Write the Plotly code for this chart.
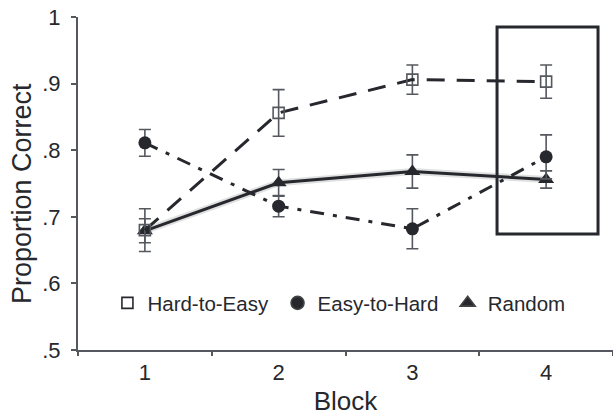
import plotly.graph_objects as go

blocks = ["1", "2", "3", "4"]
hard_to_easy = [0.680, 0.856, 0.906, 0.903]
hard_to_easy_err = [0.032, 0.035, 0.022, 0.025]
easy_to_hard = [0.811, 0.716, 0.682, 0.790]
easy_to_hard_err = [0.020, 0.016, 0.030, 0.033]
random_cond = [0.679, 0.751, 0.768, 0.756]
random_err = [0.018, 0.020, 0.025, 0.013]

ytick_vals = [0.5, 0.6, 0.7, 0.8, 0.9, 1.0]
ytick_text = [".5", ".6", ".7", ".8", ".9", "1"]

dark = "#26282d"
errc = "#55585e"
font = "Liberation Sans, Arial, sans-serif"

fig = go.Figure()

def err(vals):
    return dict(type="data", array=vals, color=errc, thickness=1.6, width=6)

# Random (solid) with soft shadow
fig.add_trace(go.Scatter(x=blocks, y=random_cond, mode="lines",
                         line=dict(color="rgba(0,0,0,0.12)", width=7),
                         showlegend=False, hoverinfo="skip"))
fig.add_trace(go.Scatter(x=blocks, y=random_cond, mode="lines+markers",
                         line=dict(color=dark, width=3),
                         marker=dict(symbol="triangle-up", size=14, color=dark),
                         error_y=err(random_err), showlegend=False))
fig.add_trace(go.Scatter(x=blocks, y=easy_to_hard, mode="lines+markers",
                         line=dict(color=dark, width=3, dash="14px,9px,4px,9px"),
                         marker=dict(symbol="circle", size=13, color=dark),
                         error_y=err(easy_to_hard_err), showlegend=False))
fig.add_trace(go.Scatter(x=blocks, y=hard_to_easy, mode="lines+markers",
                         line=dict(color=dark, width=3, dash="18px,12px"),
                         marker=dict(symbol="square-open", size=11, color="#55585e",
                                     line=dict(width=1.6)),
                         error_y=err(hard_to_easy_err), showlegend=False))

# legend-only entries (markers only), one legend box each
legend_items = [("Hard-to-Easy", "square-open", 11, "legend", 0.055),
                ("Easy-to-Hard", "circle", 13, "legend2", 0.373),
                ("Random", "triangle-up", 13, "legend3", 0.691)]
for name, sym, sz, lg, _ in legend_items:
    fig.add_trace(go.Scatter(x=[None], y=[None], mode="markers", name=name,
                             legend=lg,
                             marker=dict(symbol=sym, size=sz, color=dark,
                                         line=dict(width=1.6))))

fig.add_shape(type="rect", xref="x", yref="y", x0=2.633, x1=3.388, y0=0.674, y1=0.985,
              line=dict(color=dark, width=3))

fig.add_annotation(text="Proportion Correct", textangle=-90, xref="paper", yref="paper",
                   x=-0.1047, y=0.4715, xanchor="center", yanchor="middle",
                   showarrow=False, font=dict(size=27, color=dark))

legend_layout = {}
for name, sym, sz, lg, lx in legend_items:
    legend_layout[lg] = dict(orientation="h", x=lx, xanchor="left", y=0.141,
                             yanchor="middle", bgcolor="rgba(0,0,0,0)",
                             font=dict(size=20.5, color=dark), itemclick=False)

fig.update_layout(
    width=613, height=416,
    margin=dict(l=78, r=0, t=17, b=66),
    paper_bgcolor="white", plot_bgcolor="white",
    font=dict(family=font, color=dark),
    showlegend=True,
    xaxis=dict(type="category", range=[-0.5, 3.5], showline=True, linecolor=errc,
               linewidth=2, ticks="outside", tickson="boundaries", ticklen=4,
               tickcolor=errc, tickwidth=2, showgrid=False, zeroline=False,
               tickfont=dict(size=22), ticklabelstandoff=2,
               title=dict(text="Block", font=dict(size=26), standoff=13)),
    yaxis=dict(range=[0.5, 1.0], tickvals=ytick_vals, ticktext=ytick_text,
               showline=True, linecolor=errc, linewidth=2, ticks="outside",
               ticklen=5, tickcolor=errc, tickwidth=2, showgrid=False, zeroline=False,
               tickfont=dict(size=22), ticklabelstandoff=6),
    **legend_layout,
)

fig.write_html("out.html")
